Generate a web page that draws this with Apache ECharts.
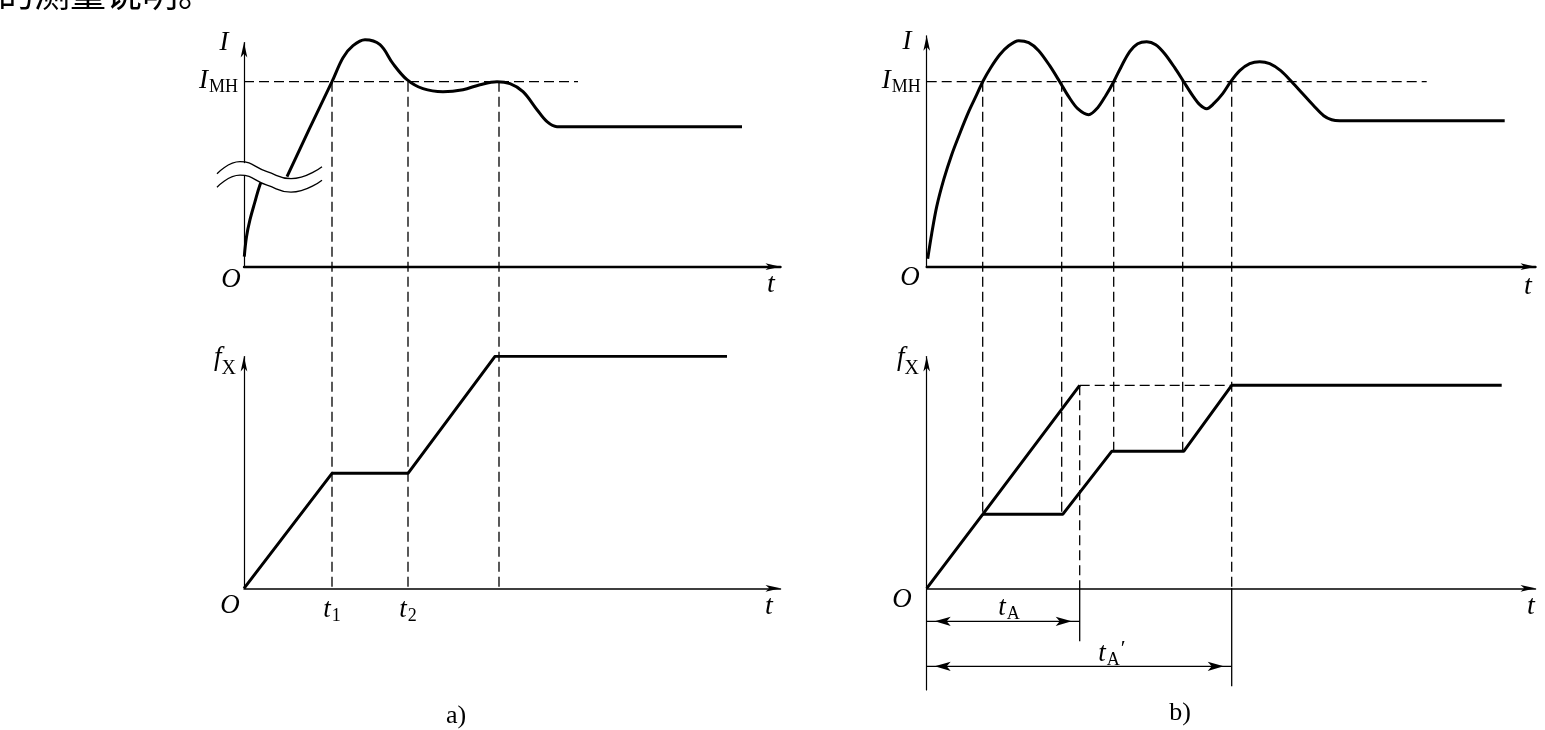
<!DOCTYPE html>
<html>
<head>
<meta charset="utf-8">
<script src="https://cdn.jsdelivr.net/npm/echarts@6.0.0/dist/echarts.min.js"></script>
<style>
  html, body { margin: 0; padding: 0; background: #fff; }
  #chart { width: 1545px; height: 730px; }
</style>
</head>
<body>
<div id="chart"></div>
<script>
// values; t and I / fX are in chart units (1 unit = 10 px)
const I_MH = 18.5;

// a) current with an axis break near the start
const aCurrentLow = [[0.03, 1.0], [0.25, 3.0], [0.6, 4.7], [1.1, 6.5], [1.6, 8.2], [1.9, 8.8]];
const aCurrentHigh = [[4.3, 9.0], [6.5, 13.7], [8.8, 18.5], [9.9, 20.9], [10.9, 22.1], [12.1, 22.7],
  [13.6, 22.2], [14.9, 20.3], [16.3, 18.7], [17.9, 17.8], [19.9, 17.5], [21.9, 17.7], [23.6, 18.2],
  [25.3, 18.5], [26.6, 18.3], [27.9, 17.5], [29.3, 15.7], [30.3, 14.5], [31.3, 14.0], [33.0, 14.0], [49.8, 14.0]];
const aBreakUpper = [[-2.7, 9.3], [-0.4, 10.5], [2.3, 9.5], [4.7, 8.8], [7.8, 10.0]];
const aBreakMask = [[-2.7, 8.6], [-0.4, 9.8], [2.3, 8.8], [4.7, 8.1], [7.8, 9.3]];
const aBreakLower = [[-2.7, 7.95], [-0.4, 9.15], [2.3, 8.15], [4.7, 7.45], [7.8, 8.65]];
const aPickupEnd = 33.4;
const aFx = [[0, 0], [8.8, 11.5], [16.4, 11.5], [25.1, 23.2], [48.3, 23.2]];
const aGuideT = [8.8, 16.4, 25.5];
const aTickT = [8.8, 16.4];
const aTickSub = ['1', '2'];

// b) current oscillating around I_MH
const bCurrent = [[0.1, 0.8], [0.5, 3.3], [1.0, 6.0], [1.7, 8.7], [2.5, 11.2], [3.3, 13.3], [4.2, 15.5],
  [5.0, 17.2], [5.6, 18.5], [6.4, 19.9], [7.3, 21.2], [8.2, 22.1], [9.2, 22.6], [10.2, 22.4], [11.2, 21.6],
  [12.3, 20.1], [13.3, 18.5], [14.2, 17.0], [15.1, 15.8], [16.2, 15.2], [17.1, 15.9], [17.9, 17.1],
  [18.7, 18.5], [19.5, 20.1], [20.3, 21.5], [21.1, 22.3], [22.0, 22.5], [22.9, 22.2], [23.8, 21.3],
  [24.8, 19.9], [25.7, 18.5], [26.6, 17.1], [27.3, 16.2], [28.0, 15.8], [28.7, 16.3], [29.6, 17.3],
  [30.4, 18.5], [31.3, 19.6], [32.3, 20.3], [33.3, 20.5], [34.3, 20.3], [35.4, 19.6], [36.5, 18.5],
  [37.6, 17.3], [38.7, 16.1], [39.7, 15.1], [40.5, 14.7], [41.3, 14.6], [57.8, 14.6]];
const bPickupEnd = 50;
const bFxFirst = [[0, 0], [5.6, 7.4], [15.3, 20.3]];
const bFxSecond = [[5.6, 7.4], [13.6, 7.4], [18.5, 13.7], [25.7, 13.7], [30.5, 20.3], [57.5, 20.3]];
const bGuideT = [5.6, 13.5, 18.7, 25.6, 30.5];
const bGuideTo = [7.4, 7.4, 13.7, 13.7, 0];
const bTA = 15.3;
const bTA2 = 30.5;
const bFxTop = 20.3;
const bExtEnd = [-5.3, -9.8];   // extension lines below the t axis
const bDimRow = [-3.3, -7.8];   // t_A and t_A' dimension arrows

// layout
const PX = 10;
const ARROW = [5, 15];
const HALF = ARROW[1] / 2;
const DIM_ARROW = [7, 16];
const SERIF = '"Liberation Serif", "DejaVu Serif", serif';
const BLACK = '#000';

// [left, arrow tip x, arrow tip y, t axis y, grid bottom y]
const frames = [
  [244, 788, 35, 266.7, 266.7],
  [244, 788, 349, 588.3, 588.3],
  [926.7, 1543, 28.3, 266.7, 266.7],
  [926.7, 1543, 349, 588.3, 690]
];

const rich = {
  i: { fontFamily: SERIF, fontStyle: 'italic', fontSize: 27, lineHeight: 28, verticalAlign: 'top', color: BLACK },
  s: { fontFamily: SERIF, fontSize: 18, lineHeight: 18, verticalAlign: 'top', padding: [11, 0, 0, 1], color: BLACK },
  x: { fontFamily: SERIF, fontSize: 20, lineHeight: 20, verticalAlign: 'top', padding: [15, 0, 0, 0], color: BLACK },
  p: { fontFamily: SERIF, fontSize: 22, lineHeight: 22, verticalAlign: 'top', padding: [-2, 0, 0, 1], color: BLACK }
};

const hidden = { axisTick: { show: false }, axisLabel: { show: false }, splitLine: { show: false } };
const grids = [], xAxes = [], yAxes = [];
frames.forEach(([left, tipX, tipY, axisY, bottomY], i) => {
  const top = tipY + HALF;
  const width = tipX - HALF - left;
  grids.push({ left, top, width, height: bottomY - top, containLabel: false, outerBoundsMode: 'none' });
  xAxes.push(Object.assign({
    gridIndex: i, type: 'value', min: 0, max: width / PX,
    axisLine: { onZero: true, symbol: ['none', 'arrow'], symbolSize: ARROW,
      lineStyle: { color: BLACK, width: i % 2 === 0 ? 2.4 : 1.5 } }
  }, hidden));
  yAxes.push(Object.assign({
    gridIndex: i, type: 'value', min: -(bottomY - axisY) / PX, max: (axisY - top) / PX,
    axisLine: { onZero: false, symbol: ['none', 'arrow'], symbolSize: ARROW,
      lineStyle: { color: BLACK, width: 1.2 } }
  }, hidden));
});

// extra frame for the break marker of a), reaching left of the I axis with the same scale
const BREAK_PAD = 3;
const g0 = grids[0];
grids.push({ left: g0.left - BREAK_PAD * PX, top: g0.top, width: g0.width + BREAK_PAD * PX, height: g0.height,
  containLabel: false, outerBoundsMode: 'none' });
xAxes.push({ gridIndex: 4, type: 'value', show: false, min: -BREAK_PAD, max: xAxes[0].max });
yAxes.push({ gridIndex: 4, type: 'value', show: false, min: yAxes[0].min, max: yAxes[0].max });

// I_MH label on the current axes, t1 / t2 on the a) time axis
[0, 2].forEach(i => {
  yAxes[i].axisLabel = { show: true, customValues: [I_MH], margin: 6, formatter: () => '{i|I}{s|MH}', rich };
});
xAxes[1].axisLabel = {
  show: true, customValues: aTickT, margin: 8, rich,
  formatter: v => '{i|t}{s|' + aTickSub[aTickT.indexOf(v)] + '}'
};

const shiftA = (frames[1][3] - frames[0][3]) / PX;
const shiftB = (frames[3][3] - frames[2][3]) / PX;

const DASH = { color: BLACK, width: 1.3, type: [10, 5] };
const THIN = { color: BLACK, width: 1.3 };
const THICK = { color: BLACK, width: 3 };

function line(grid, data, lineStyle, extra) {
  return Object.assign({
    type: 'line', xAxisIndex: grid, yAxisIndex: grid, data, symbol: 'none',
    silent: true, lineStyle, z: 3
  }, extra || {});
}

// double-headed dimension line: arrow tips sit on the end points
function dimension(grid, t0, t1, y) {
  const h = DIM_ARROW[1] / 2;
  return line(grid, [
    { value: [t0, y], symbolRotate: 90, symbolOffset: [h, 0] },
    { value: [t1, y], symbolRotate: -90, symbolOffset: [-h, 0] }
  ], THIN, { symbol: 'arrow', symbolSize: DIM_ARROW, showSymbol: true, showAllSymbol: true,
    itemStyle: { color: BLACK } });
}

const series = [
  line(0, [[0, I_MH], [aPickupEnd, I_MH]], DASH),
  line(0, aCurrentLow, THICK, { smooth: 0.4 }),
  line(0, aCurrentHigh, THICK, { smooth: 0.35, clip: false }),
  line(4, aBreakMask, { color: '#fff', width: 12 }, { smooth: true, z: 4 }),
  line(4, aBreakUpper, THIN, { smooth: true, z: 5 }),
  line(4, aBreakLower, THIN, { smooth: true, z: 5 }),
  line(1, aFx, THICK),
  ...aGuideT.map(t => line(1, [[t, I_MH + shiftA], [t, 0]], DASH, { clip: false })),

  line(2, [[0, I_MH], [bPickupEnd, I_MH]], DASH),
  line(2, bCurrent, THICK, { smooth: 0.3, clip: false }),
  line(3, bFxFirst, THICK),
  line(3, bFxSecond, THICK),
  ...bGuideT.map((t, k) => line(3, [[t, I_MH + shiftB], [t, bGuideTo[k]]], DASH, { clip: false })),
  line(3, [[bTA, bFxTop], [bTA2, bFxTop]], DASH),
  line(3, [[bTA, bFxTop], [bTA, 0]], DASH),
  line(3, [[bTA, 0], [bTA, bExtEnd[0]]], THIN),
  line(3, [[bTA2, 0], [bTA2, bExtEnd[1]]], THIN),
  dimension(3, 0, bTA, bDimRow[0]),
  dimension(3, 0, bTA2, bDimRow[1])
];

function label(x, y, text, align) {
  return { type: 'text', x, y, silent: true,
    style: { text, rich, align: align || 'center', verticalAlign: 'middle', fill: BLACK } };
}
function plain(x, y, text, size, italic) {
  return { type: 'text', x, y, silent: true,
    style: { text, fontFamily: SERIF, fontSize: size, fontStyle: italic ? 'italic' : 'normal',
      align: 'center', verticalAlign: 'middle', fill: BLACK } };
}

const graphic = [
  { type: 'text', x: -2, y: 11, silent: true,
    style: { text: '的测量说明。', fontFamily: '"Noto Sans CJK SC", sans-serif', fontSize: 36,
      align: 'left', verticalAlign: 'bottom', fill: BLACK } },
  // a)
  plain(224, 43, 'I', 27, true),
  plain(231, 280, 'O', 27, true),
  plain(771, 285, 't', 28, true),
  label(236, 358, '{i|f}{x|X}', 'right'),
  plain(230, 606, 'O', 27, true),
  plain(769, 607, 't', 28, true),
  plain(456, 716, 'a)', 26, false),
  // b)
  plain(907, 42, 'I', 27, true),
  plain(910, 278, 'O', 27, true),
  plain(1528, 287, 't', 28, true),
  label(919, 358, '{i|f}{x|X}', 'right'),
  plain(902, 600, 'O', 27, true),
  plain(1531, 607, 't', 28, true),
  label(1009, 608, '{i|t}{s|A}'),
  label(1112, 654, '{i|t}{s|A}{p|\u2032}'),
  plain(1180, 713, 'b)', 26, false)
];

const chart = echarts.init(document.getElementById('chart'));
chart.setOption({
  backgroundColor: '#fff',
  animation: false,
  grid: grids,
  xAxis: xAxes,
  yAxis: yAxes,
  series,
  graphic
});
</script>
</body>
</html>
